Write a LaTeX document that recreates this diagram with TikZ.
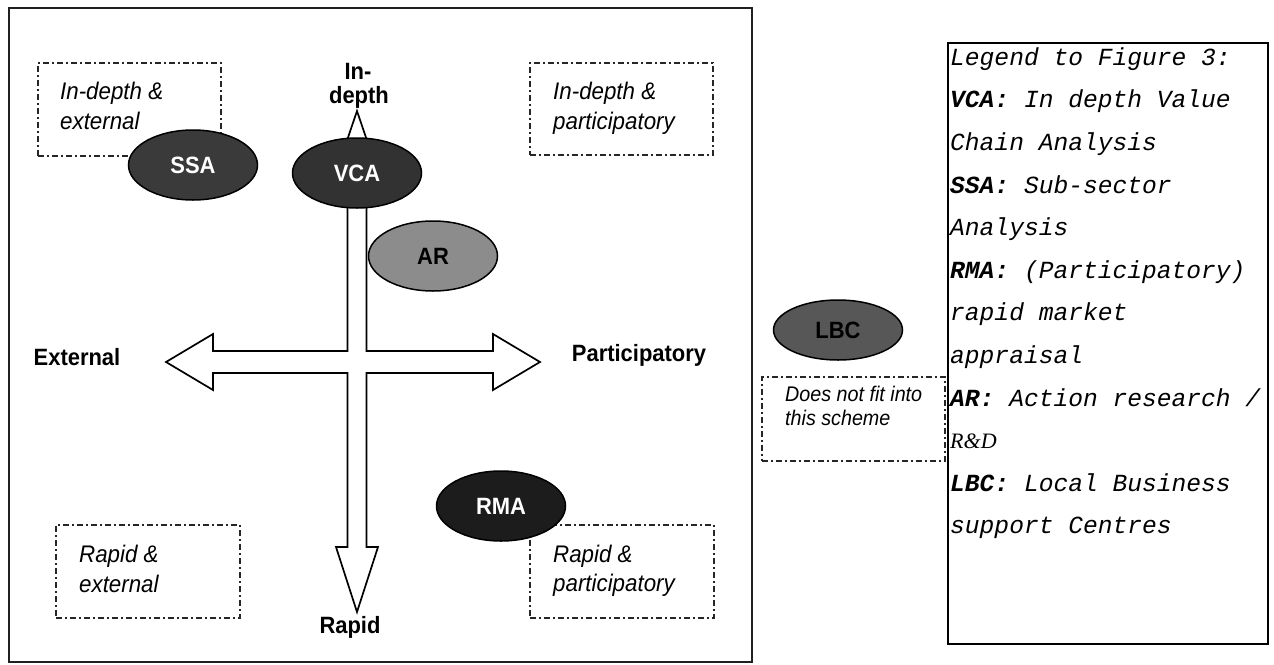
\documentclass[tikz,border=0pt]{standalone}
\usepackage{fontspec}
\setmainfont{Liberation Sans}[FakeStretch=0.93]
\newfontfamily\legendmono{Liberation Mono}
\newfontfamily\legendserif{Liberation Serif}
\usetikzlibrary{shapes.geometric}

\definecolor{framegray}{HTML}{202020}
\definecolor{boxgray}{HTML}{262626}
\definecolor{ssafill}{HTML}{3A3A3A}
\definecolor{vcafill}{HTML}{323232}
\definecolor{arfill}{HTML}{8C8C8C}
\definecolor{rmafill}{HTML}{1C1C1C}
\definecolor{lbcfill}{HTML}{575757}

\begin{document}
\begin{tikzpicture}[x=1pt,y=-1pt,
  quadbox/.style={draw=boxgray, line width=1.6pt,
    dash pattern=on 6pt off 3pt on 2pt off 3pt,
    anchor=north west, inner sep=0pt},
  method/.style={ellipse, draw=black, line width=1.5pt,
    minimum width=129pt, minimum height=70pt, inner sep=0pt,
    font=\fontsize{23.6}{28}\selectfont\bfseries},
  axislabel/.style={anchor=base, inner sep=0pt,
    font=\fontsize{23.6}{28}\selectfont\bfseries},
  quadtext/.style={anchor=base west, inner sep=0pt,
    font=\fontsize{24}{30}\selectfont\itshape},
  smalltext/.style={anchor=base west, inner sep=0pt,
    font=\fontsize{21.2}{25}\selectfont\itshape},
  legendline/.style={anchor=base west, inner sep=0pt,
    font=\legendmono\fontsize{24.6}{30}\selectfont\itshape}
]
\useasboundingbox (0,0) rectangle (1274,664);
\fill[white] (0,0) rectangle (1274,664);

% outer frame of the scheme
\draw[framegray, line width=2pt] (9,8) rectangle (752,662);

% quadrant boxes
\node[quadbox, minimum width=183pt, minimum height=93pt] (q1) at (37,62) {};
\node[quadbox, minimum width=183pt, minimum height=92pt] (q2) at (529,62) {};
\node[quadbox, minimum width=184pt, minimum height=93pt] (q3) at (55,524) {};
\node[quadbox, minimum width=184pt, minimum height=93pt] (q4) at (529,524) {};
\node[quadbox, minimum width=183pt, minimum height=84pt] (qx) at (761,376) {};

\node[quadtext] (q1a) at (60,99) {In-depth \&};
\node[quadtext] (q1b) at (60,129) {external};
\node[quadtext] (q2a) at (553,99) {In-depth \&};
\node[quadtext] (q2b) at (553,129) {participatory};
\node[quadtext] (q3a) at (79,562) {Rapid \&};
\node[quadtext] (q3b) at (79,592) {external};
\node[quadtext] (q4a) at (553,562) {Rapid \&};
\node[quadtext] (q4b) at (553,591) {participatory};
\node[smalltext] (qxa) at (785,401) {Does not fit into};
\node[smalltext] (qxb) at (785,425) {this scheme};

% the four-headed axis cross
\draw[black, line width=1.7pt, fill=white, line join=miter]
  (357,111) -- (366.5,139) -- (366.5,351) -- (493,351) -- (493,334)
  -- (540,362) -- (493,390) -- (493,373) -- (366.5,373) -- (366.5,547)
  -- (378,547) -- (357,612) -- (336,547) -- (347.5,547) -- (347.5,373)
  -- (213,373) -- (213,390) -- (166,362) -- (213,334) -- (213,351)
  -- (347.5,351) -- (347.5,139) -- cycle;

% axis labels
\node[axislabel] (lin1) at (358,79) {In-};
\node[axislabel] (lin2) at (359,103) {depth};
\node[axislabel] (lext) at (77,365) {External};
\node[axislabel] (lpart) at (639,361) {Participatory};
\node[axislabel] (lrap) at (350,633) {Rapid};

% methods
\node[method, fill=ssafill, text=white] (ssa) at (193,165) {SSA};
\node[method, fill=vcafill, text=white] (vca) at (357,173) {VCA};
\node[method, fill=arfill, text=black] (ar) at (433,256) {AR};
\node[method, fill=rmafill, text=white] (rma) at (501,506) {RMA};
\node[method, fill=lbcfill, text=black, minimum height=60pt] (lbc) at (838,330) {LBC};

% legend
\node[draw=black, line width=1.5pt, anchor=north west, inner sep=0pt,
  minimum width=320pt, minimum height=601pt] (legend) at (947,42) {};
\node[legendline] (g1) at (950,65) {Legend to Figure 3:};
\node[legendline] (g2) at (950,107) {{\bfseries VCA:} In depth Value};
\node[legendline] (g3) at (950,150) {Chain Analysis};
\node[legendline] (g4) at (950,193) {{\bfseries SSA:} Sub-sector};
\node[legendline] (g5) at (950,235) {Analysis};
\node[legendline] (g6) at (950,278) {{\bfseries RMA:} (Participatory)};
\node[legendline] (g7) at (950,320) {rapid market};
\node[legendline] (g8) at (950,363) {appraisal};
\node[legendline] (g9) at (950,406) {{\bfseries AR:} Action research /};
\node[anchor=base west, inner sep=0pt,
  font=\legendserif\fontsize{22}{26}\selectfont\itshape] (g10) at (950,448) {R\&D};
\node[legendline] (g11) at (950,491) {{\bfseries LBC:} Local Business};
\node[legendline] (g12) at (950,533) {support Centres};
\end{tikzpicture}
\end{document}
